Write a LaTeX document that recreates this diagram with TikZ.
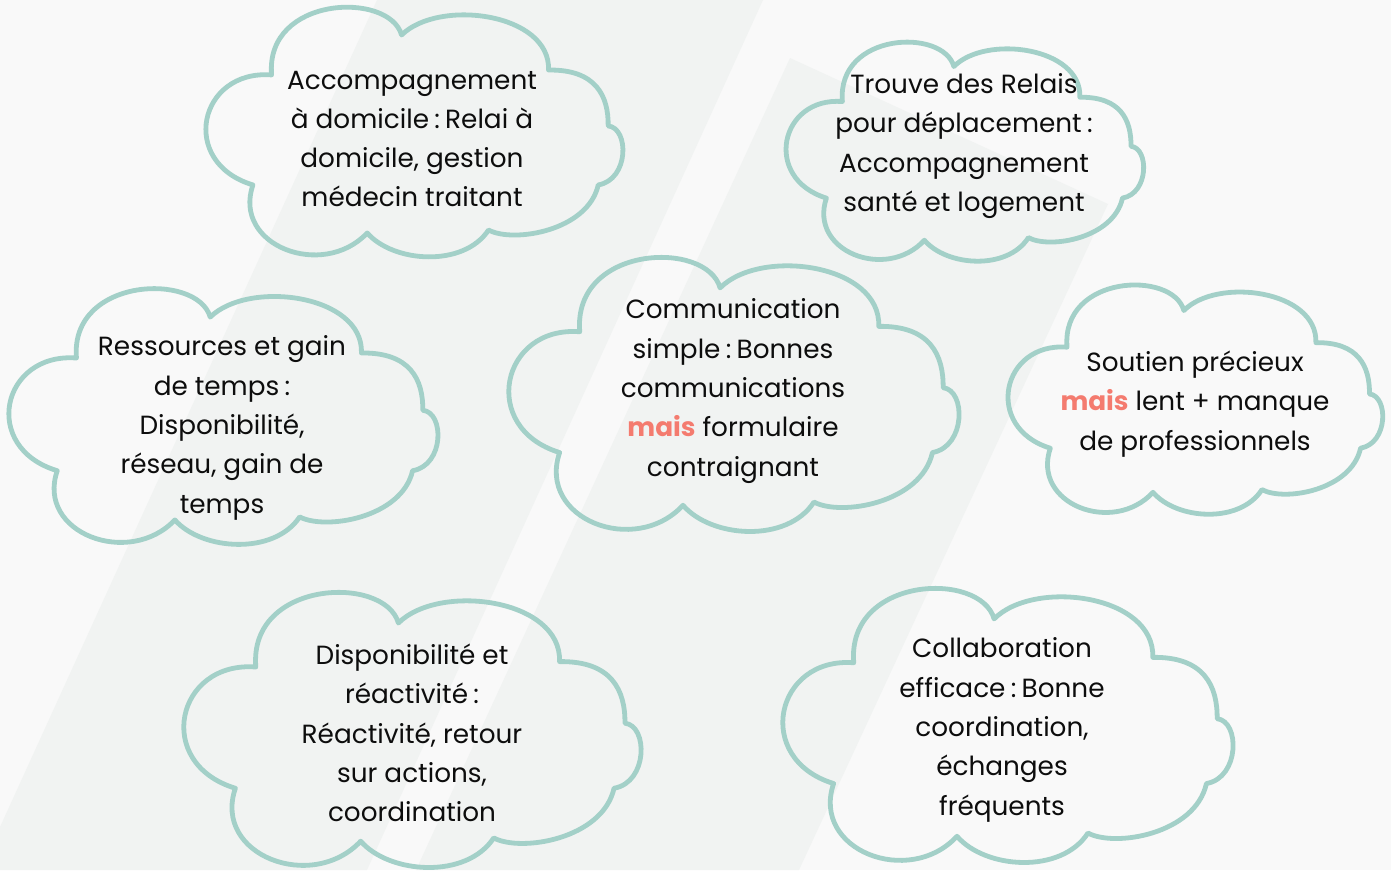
\documentclass[tikz,border=0pt]{standalone}
\usepackage{fontspec}
\setmainfont{Poppins}
\definecolor{fond}{HTML}{F9F9F9}
\definecolor{bande}{HTML}{F1F3F2}
\definecolor{vertd}{HTML}{A3D0C8}
\definecolor{saumon}{HTML}{F47B6F}
% contour de nuage : centre x, centre y, largeur, hauteur
\newcommand{\nuage}[4]{%
  \draw[bord, shift={(#1,#2)}, xscale=#3, yscale=-#4]
    (-0.03,0.40) .. controls (-0.06,0.58) and (-0.36,0.56) .. (-0.344,0.237)
    .. controls (-0.52,0.26) and (-0.57,-0.12) .. (-0.389,-0.212)
    .. controls (-0.44,-0.46) and (-0.22,-0.60) .. (-0.113,-0.408)
    .. controls (-0.05,-0.53) and (0.12,-0.55) .. (0.18,-0.396)
    .. controls (0.24,-0.45) and (0.42,-0.40) .. (0.445,-0.212)
    .. controls (0.52,-0.19) and (0.52,0.02) .. (0.469,0.029)
    .. controls (0.47,0.15) and (0.44,0.26) .. (0.325,0.257)
    .. controls (0.33,0.49) and (0.06,0.55) .. (-0.03,0.40) -- cycle;}
\newcommand{\mais}{\textcolor{saumon}{\textbf{mais}}}
\newcommand{\dpts}{\hspace{0.2em}:\hspace{0.2em}}

\begin{document}
\begin{tikzpicture}[x=1pt, y=-1pt]
   \tikzstyle{bord} = [vertd, line width=4.8pt, line join=round,
                       line cap=round];
   \tikzstyle{txt} = [align=center, text=black!95, inner sep=0pt,
                      font=\fontsize{26.3}{39.3}\selectfont];

   \useasboundingbox (0,0) rectangle (1391,870);
   \fill[fond] (0,0) rectangle (1391,870);

   %% bandes du fond
   \fill[bande] (377,0) -- (763,0) -- (367,870) -- (0,870) -- (0,827) -- cycle;
   \fill[bande] (790,58) -- (1108,204) -- (799,870) -- (416,870) -- cycle;

   %% nuages
   \nuage{414}{133}{414}{245}
   \nuage{964.5}{152.5}{355}{215}
   \nuage{223}{417.5}{426}{251}
   \nuage{733.5}{395.5}{447}{269}
   \nuage{1195}{400.5}{372}{225}
   \nuage{412}{731}{454}{270}
   \nuage{1007.5}{726.5}{447}{269}

   %% textes
   \node[txt] (domicile) at (412,139)
     {Accompagnement\\à domicile\dpts Relai à\\domicile, gestion\\médecin traitant};
   \node[txt] (relais) at (964,146)
     {Trouve des Relais\\pour déplacement\dpts\\Accompagnement\\santé et logement};
   \node[txt] (ressources) at (222,428)
     {Ressources et gain\\de temps\dpts\\Disponibilité,\\réseau, gain de\\temps};
   \node[txt] (communication) at (733,391)
     {Communication\\simple\dpts Bonnes\\communications\\\mais{} formulaire\\contraignant};
   \node[txt] (soutien) at (1195,404)
     {Soutien précieux\\\mais{} lent + manque\\de professionnels};
   \node[txt] (reactivite) at (412,733)
     {Disponibilité et\\réactivité\dpts\\Réactivité, retour\\sur actions,\\coordination};
   \node[txt] (collaboration) at (1002,730)
     {Collaboration\\efficace\dpts Bonne\\coordination,\\échanges\\fréquents};

\end{tikzpicture}
\end{document}
